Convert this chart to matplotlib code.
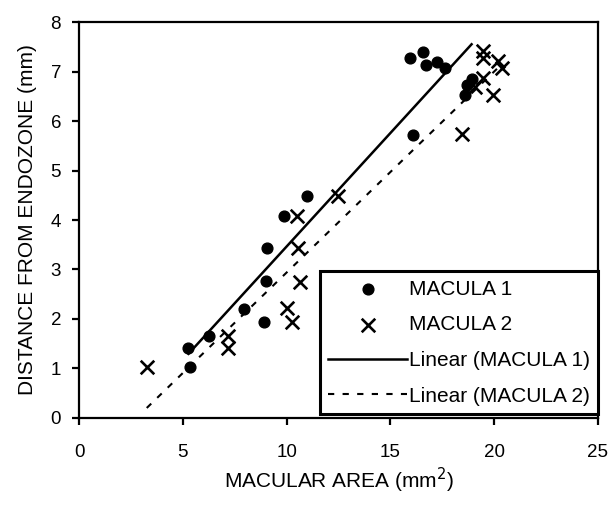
import matplotlib.pyplot as plt
import numpy as np

plt.rcParams['font.family'] = ['Liberation Sans', 'DejaVu Sans']

# MACULA 1 (filled dots)
m1_area = [5.27, 5.35, 6.26, 7.96, 8.91, 9.01, 9.07, 9.89, 11.0,
           15.94, 16.59, 16.71, 17.23, 17.63, 16.10, 18.59, 18.67, 18.91]
m1_dist = [1.42, 1.04, 1.65, 2.21, 1.94, 2.76, 3.43, 4.09, 4.48,
           7.27, 7.40, 7.13, 7.19, 7.08, 5.71, 6.52, 6.72, 6.84]

# MACULA 2 (crosses)
m2_area = [3.26, 7.19, 7.19, 10.0, 10.24, 10.65, 10.57, 10.48, 12.49,
           18.43, 19.44, 19.48, 20.20, 20.36, 19.48, 19.08, 19.93]
m2_dist = [1.04, 1.65, 1.41, 2.22, 1.93, 2.75, 3.43, 4.08, 4.48,
           5.73, 7.42, 7.28, 7.21, 7.08, 6.86, 6.69, 6.52]

fig = plt.figure(figsize=(6.13, 5.05), dpi=100)
ax = fig.add_axes([0.129, 0.1723, 0.8465, 0.7841])

ax.scatter(m1_area, m1_dist, s=60, c='black', marker='o', label='MACULA 1', zorder=3)
ax.scatter(m2_area, m2_dist, s=95, c='black', marker='x', linewidths=1.9,
           label='MACULA 2', zorder=3)

# linear trendlines over each series' x range
p1 = np.polyfit(m1_area, m1_dist, 1)
xs1 = np.array([min(m1_area), max(m1_area)])
ax.plot(xs1, np.polyval(p1, xs1), color='black', lw=1.8, label='Linear (MACULA 1)')
p2 = np.polyfit(m2_area, m2_dist, 1)
xs2 = np.array([min(m2_area), max(m2_area)])
ax.plot(xs2, np.polyval(p2, xs2), color='black', lw=1.5, ls=(0, (3, 4)),
        label='Linear (MACULA 2)')

ax.set_xlim(0, 25)
ax.set_ylim(0, 8)
ax.set_xticks(range(0, 26, 5))
ax.set_yticks(range(0, 9))
for s in ax.spines.values():
    s.set_linewidth(1.6)
ax.tick_params(direction='out', length=5, width=1.6, labelsize=13.5)
ax.tick_params(axis='x', pad=14)
ax.tick_params(axis='y', pad=8)

ax.set_xlabel('MACULAR AREA (mm$^2$)', fontsize=15, labelpad=3)
ax.set_ylabel('DISTANCE FROM ENDOZONE (mm)', fontsize=15, labelpad=10)

leg = ax.legend(loc='lower right', bbox_to_anchor=(1.0, 0.01), fontsize=15,
                frameon=True, fancybox=False, edgecolor='black', framealpha=1,
                handlelength=3.75, handletextpad=0.1, labelspacing=0.8,
                borderaxespad=0, borderpad=0.4)
leg.get_frame().set_linewidth(2.2)

fig.savefig('out.png', dpi=100)
